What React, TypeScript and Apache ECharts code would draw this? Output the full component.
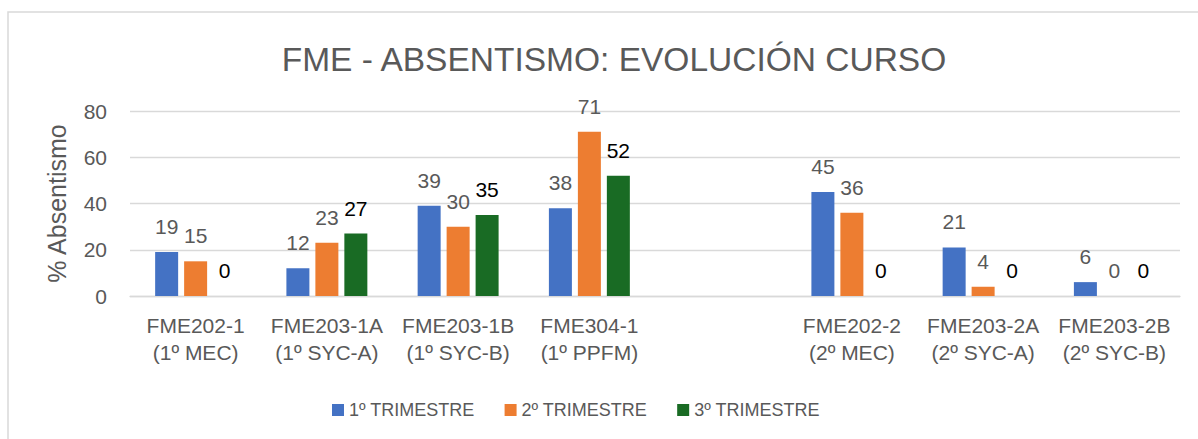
import React, { useEffect, useRef } from "react";
import * as echarts from "echarts";

const categories = [
  "FME202-1\n(1º MEC)",
  "FME203-1A\n(1º SYC-A)",
  "FME203-1B\n(1º SYC-B)",
  "FME304-1\n(1º PPFM)",
  "",
  "FME202-2\n(2º MEC)",
  "FME203-2A\n(2º SYC-A)",
  "FME203-2B\n(2º SYC-B)",
];
const trim1 = [19, 12, 39, 38, null, 45, 21, 6];
const trim2 = [15, 23, 30, 71, null, 36, 4, 0];
const trim3 = [0, 27, 35, 52, null, 0, 0, 0];
const seriesNames = ["1º TRIMESTRE", "2º TRIMESTRE", "3º TRIMESTRE"];
const colors = ["#4472C4", "#ED7D31", "#196B24"];
const labelColors = ["#595959", "#595959", "#000000"];
const yTicks = [0, 20, 40, 60, 80];

const FONT = "'Liberation Sans', Arial, sans-serif";

export default function App() {
  const ref = useRef<HTMLDivElement>(null);
  useEffect(() => {
    if (!ref.current) return;
    const chart = echarts.init(ref.current, null, { renderer: "svg" });
    const datasets = [trim1, trim2, trim3];
    chart.setOption({
      animation: false,
      backgroundColor: "#ffffff",
      textStyle: { fontFamily: FONT },
      title: {
        text: "FME - ABSENTISMO: EVOLUCIÓN CURSO",
        left: 609,
        textAlign: "center",
        top: 37,
        textStyle: { fontFamily: FONT, fontSize: 33.5, fontWeight: "normal", color: "#595959" },
      },
      graphic: [
        {
          type: "rect",
          shape: { x: 8, y: 12, width: 1200, height: 440 },
          style: { fill: "none", stroke: "#d9d9d9", lineWidth: 1.5 },
          silent: true,
        },
      ],
      legend: {
        left: 327,
        top: 396,
        itemWidth: 12,
        itemHeight: 12,
        itemGap: 30,
        icon: "rect",
        textStyle: { fontFamily: FONT, fontSize: 18, color: "#595959" },
        data: seriesNames,
      },
      grid: { left: 130, right: 18, top: 111, bottom: 143, containLabel: false },
      xAxis: {
        type: "category",
        data: categories,
        axisLine: { show: true, lineStyle: { color: "#d9d9d9", width: 1.3 } },
        axisTick: { show: false },
        axisLabel: {
          interval: 0,
          margin: 16,
          fontFamily: FONT,
          fontSize: 21,
          lineHeight: 27,
          color: "#595959",
        },
      },
      yAxis: {
        type: "value",
        min: yTicks[0],
        max: yTicks[yTicks.length - 1],
        interval: 20,
        name: "% Absentismo",
        nameLocation: "middle",
        nameGap: 61,
        nameTextStyle: { fontFamily: FONT, fontSize: 25, color: "#595959" },
        axisLine: { show: false },
        axisTick: { show: false },
        axisLabel: { margin: 23, fontFamily: FONT, fontSize: 21, color: "#595959" },
        splitLine: { lineStyle: { color: "#d9d9d9", width: 1.3 } },
      },
      series: datasets.map((d, i) => ({
        name: seriesNames[i],
        type: "bar",
        data: d,
        barWidth: 23,
        barGap: "26%",
        itemStyle: { color: colors[i] },
        label: {
          show: true,
          position: "top",
          distance: 15,
          fontFamily: FONT,
          fontSize: 21,
          color: labelColors[i],
        },
      })),
    });
    return () => chart.dispose();
  }, []);
  return (
    <div
      ref={ref}
      style={{ position: "fixed", left: 0, top: 0, width: 1198, height: 439 }}
    />
  );
}
